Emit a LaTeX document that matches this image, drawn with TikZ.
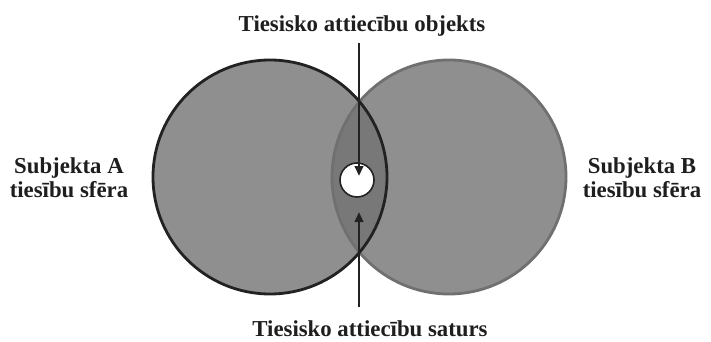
\documentclass[tikz,border=0pt]{standalone}
\usepackage{fontspec}
\setmainfont{Liberation Serif}
\usetikzlibrary{arrows.meta}
\definecolor{fillgray}{HTML}{8F8F8F}
\definecolor{lensgray}{HTML}{787878}
\definecolor{darkline}{HTML}{222222}
\definecolor{rightline}{HTML}{707070}
\definecolor{textgray}{HTML}{1E1E1E}
\begin{document}
\begin{tikzpicture}[x=1pt,y=-1pt,
  lbl/.style={font=\bfseries\fontsize{22.8}{24}\selectfont, align=center, text=textgray, inner sep=0pt},
  arr/.style={line width=2.4pt, draw=darkline, -{Triangle[length=10pt,width=8.5pt]}}]
\useasboundingbox (0,0) rectangle (711,342);
\fill[white] (0,0) rectangle (711,342);
% circles
\coordinate (ca) at (270,177);
\coordinate (cb) at (449,177);
\fill[fillgray] (ca) circle (117);
\fill[fillgray] (cb) circle (117);
\begin{scope}
  \clip (ca) circle (117);
  \fill[lensgray] (cb) circle (117);
\end{scope}
\draw[rightline, line width=2.8pt] (cb) circle (117);
\draw[darkline, line width=2.8pt] (ca) circle (117);
% object circle
\node[circle, draw=darkline, fill=white, line width=1.6pt, minimum size=34pt, inner sep=0pt] (obj) at (357,180) {};
% labels
\node[lbl, anchor=base] (top) at (362,32) {Tiesisko attiecību objekts};
\node[lbl, anchor=base] (bot) at (370,336) {Tiesisko attiecību saturs};
\node[lbl] (la) at (69,178) {Subjekta A\\tiesību sfēra};
\node[lbl] (lb) at (642,178) {Subjekta B\\tiesību sfēra};
% arrows
\coordinate (t1) at (359,43);
\coordinate (t2) at (359,176);
\coordinate (b1) at (359,307);
\coordinate (b2) at (359,212);
\draw[arr] (t1) -- (t2);
\draw[arr] (b1) -- (b2);
\end{tikzpicture}
\end{document}
